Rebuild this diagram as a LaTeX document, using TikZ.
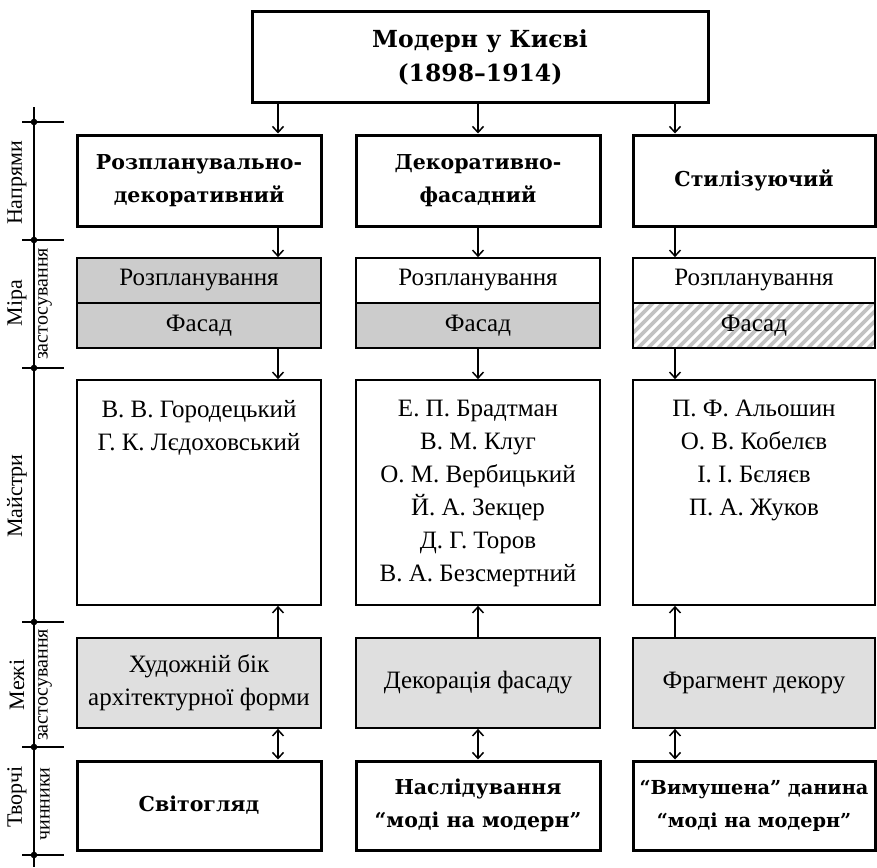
\documentclass[tikz,border=0pt]{standalone}
\usepackage{fontspec}
\setmainfont{Liberation Serif}
\newfontfamily\headfont{DejaVu Serif}
\usetikzlibrary{arrows.meta}
\definecolor{cellgray}{gray}{0.80}
\definecolor{limitgray}{gray}{0.875}
\definecolor{hatchgray}{gray}{0.76}
\begin{document}
\begin{tikzpicture}[x=1pt,y=-1pt,line join=miter,
  heavy/.style={draw,line width=3pt,align=center,inner sep=0pt,
    font=\headfont\bfseries\fontsize{20.5}{33}\selectfont},
  headline/.style={heavy,font=\headfont\bfseries\fontsize{23.5}{34}\selectfont},
  light/.style={draw,line width=1.7pt,align=center,inner sep=0pt,
    font=\fontsize{25}{33}\selectfont},
  names/.style={align=center,anchor=north,inner sep=0pt,
    font=\fontsize{25}{33}\selectfont},
  colA/.style={minimum width=244pt},
  colB/.style={minimum width=244pt},
  colC/.style={minimum width=242pt},
  arr/.style={line width=1.5pt,-{Straight Barb[length=6pt,width=11pt]}},
  arrboth/.style={line width=1.5pt,{Straight Barb[length=6pt,width=11pt]}-{Straight Barb[length=6pt,width=11pt]}},
  hatch/.style={hatchgray,line width=3.8pt},
  axis/.style={line width=1.5pt},
  axislabel/.style={rotate=90,inner sep=0pt,font=\fontsize{22}{24}\selectfont},
  sublabel/.style={rotate=90,inner sep=0pt,font=\fontsize{20}{22}\selectfont}]
\useasboundingbox (0,0) rectangle (877,867);

% x positions of the connectors in the three columns
\coordinate (ax1) at (278,0);
\coordinate (ax2) at (478,0);
\coordinate (ax3) at (675,0);

% heading
\node[headline,minimum width=456pt,minimum height=90pt] (title) at (480,57)
  {Модерн у Києві\\(1898–1914)};

% directions
\node[heavy,colA,minimum height=91pt] (d1) at (199,180.5) {Розпланувально-\\декоративний};
\node[heavy,colB,minimum height=91pt] (d2) at (478,180.5) {Декоративно-\\фасадний};
\node[heavy,colC,minimum height=91pt] (d3) at (754,180.5) {Стилізуючий};

% extent of use
\node[light,colA,minimum height=45pt,fill=cellgray] (p1) at (199,280.5) {Розпланування};
\node[light,colA,minimum height=45pt,fill=cellgray] (f1) at (199,325.5) {Фасад};
\node[light,colB,minimum height=45pt] (p2) at (478,280.5) {Розпланування};
\node[light,colB,minimum height=45pt,fill=cellgray] (f2) at (478,325.5) {Фасад};
\node[light,colC,minimum height=45pt] (p3) at (754,280.5) {Розпланування};
\node[light,colC,minimum height=45pt,fill=white,path picture={
    \foreach \s in {-60,-50,...,260}
      \draw[hatch] ([xshift=\s pt,yshift=-5pt]path picture bounding box.south west) -- ++(60pt,60pt);
  }] (f3) at (754,325.5) {Фасад};

% masters
\node[light,colA,minimum height=225pt] (m1) at (199,492.5) {};
\node[light,colB,minimum height=225pt] (m2) at (478,492.5) {};
\node[light,colC,minimum height=225pt] (m3) at (754,492.5) {};
\node[names] (n1) at ([yshift=-21pt]m1.north)
  {В. В. Городецький\\Г. К. Лєдоховський};
\node[names] (n2) at ([yshift=-21pt]m2.north)
  {Е. П. Брадтман\\В. М. Клуг\\О. М. Вербицький\\Й. А. Зекцер\\Д. Г. Торов\\В. А. Безсмертний};
\node[names] (n3) at ([yshift=-21pt]m3.north)
  {П. Ф. Альошин\\О. В. Кобелєв\\І. І. Бєляєв\\П. А. Жуков};

% limits of use
\node[light,colA,minimum height=90pt,fill=limitgray] (g1) at (199,683) {Художній бік\\архітектурної форми};
\node[light,colB,minimum height=90pt,fill=limitgray] (g2) at (478,683) {Декорація фасаду};
\node[light,colC,minimum height=90pt,fill=limitgray] (g3) at (754,683) {Фрагмент декору};

% creative factors
\node[heavy,colA,minimum height=89pt] (c1) at (199,805.5) {Світогляд};
\node[heavy,colB,minimum height=89pt] (c2) at (478,805.5) {Наслідування\\“моді на модерн”};
\node[heavy,colC,minimum height=89pt,font=\headfont\bfseries\fontsize{19.3}{33}\selectfont] (c3) at (754,805.5)
  {“Вимушена” данина\\“моді на модерн”};

% connectors
\draw[arr] (title.south -| ax1) -- (d1.north -| ax1);
\draw[arr] (title.south -| ax2) -- (d2.north -| ax2);
\draw[arr] (title.south -| ax3) -- (d3.north -| ax3);
\draw[arr] (d1.south -| ax1) -- (p1.north -| ax1);
\draw[arr] (d2.south -| ax2) -- (p2.north -| ax2);
\draw[arr] (d3.south -| ax3) -- (p3.north -| ax3);
\draw[arr] (f1.south -| ax1) -- (m1.north -| ax1);
\draw[arr] (f2.south -| ax2) -- (m2.north -| ax2);
\draw[arr] (f3.south -| ax3) -- (m3.north -| ax3);
\draw[arr] (g1.north -| ax1) -- (m1.south -| ax1);
\draw[arr] (g2.north -| ax2) -- (m2.south -| ax2);
\draw[arr] (g3.north -| ax3) -- (m3.south -| ax3);
\draw[arrboth] (g1.south -| ax1) -- (c1.north -| ax1);
\draw[arrboth] (g2.south -| ax2) -- (c2.north -| ax2);
\draw[arrboth] (g3.south -| ax3) -- (c3.north -| ax3);

% scale on the left
\draw[axis] (34,107) -- (34,867);
\foreach \t in {122,240,368,622,747,855} {
  \draw[axis] (22,\t) -- (64,\t);
  \fill (34,\t) circle (3.3pt);
}
\node[axislabel] (lb1) at (17,183) {Напрями};
\node[axislabel] (lb2) at (17,303) {Міра};
\node[sublabel] (lb2s) at (45,304) {застосування};
\node[axislabel] (lb3) at (17,496) {Майстри};
\node[axislabel] (lb4) at (17,685) {Межі};
\node[sublabel] (lb4s) at (45,685) {застосування};
\node[axislabel] (lb5) at (17,797) {Творчі};
\node[sublabel] (lb5s) at (45,804) {чинники};
\end{tikzpicture}
\end{document}
